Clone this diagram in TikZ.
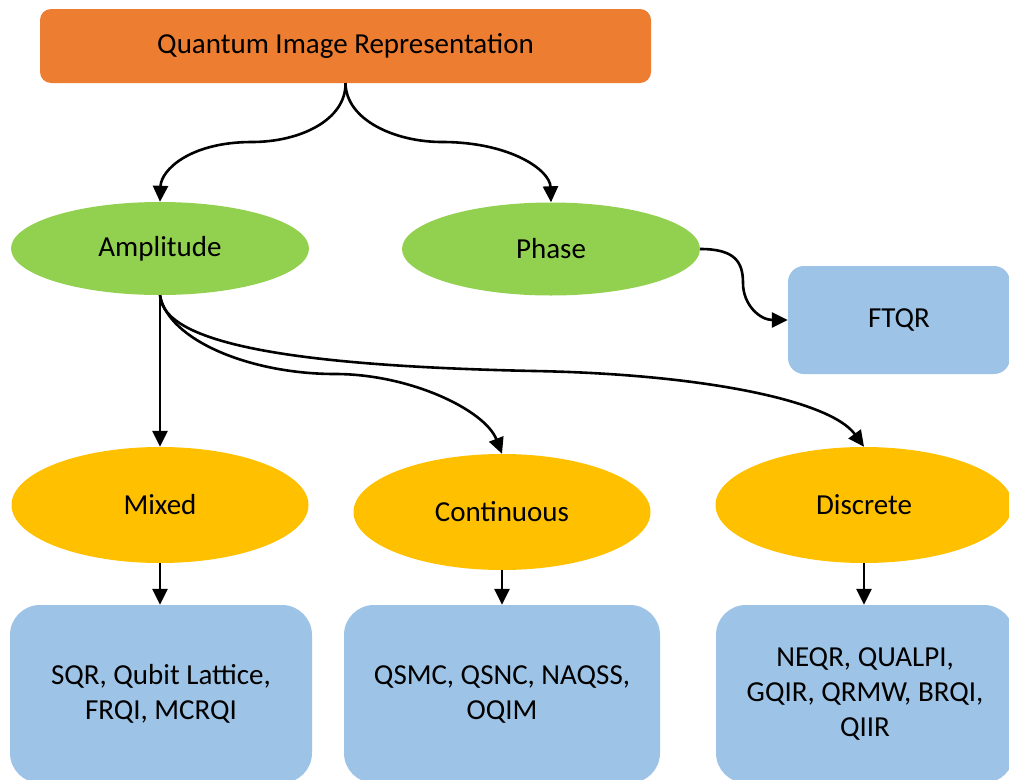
\documentclass[tikz,border=0pt]{standalone}
\usepackage{fontspec}
\setmainfont{Carlito}
\usetikzlibrary{shapes.geometric,arrows.meta}

\definecolor{qorange}{HTML}{ED7D31}
\definecolor{qgreen}{HTML}{92D050}
\definecolor{qyellow}{HTML}{FFC000}
\definecolor{qblue}{HTML}{9DC3E6}

\tikzset{
  lbl/.style={font=\fontsize{29}{35}\selectfont, text=black, inner sep=0pt, align=center},
  rootbox/.style={lbl, rectangle, rounded corners=11pt, fill=qorange,
                  minimum width=611pt, minimum height=74pt},
  greenell/.style={lbl, ellipse, fill=qgreen, minimum width=298pt, minimum height=93pt},
  yellowell/.style={lbl, ellipse, fill=qyellow, minimum width=297pt, minimum height=116pt},
  leafbox/.style={lbl, rectangle, rounded corners=30pt, fill=qblue, minimum height=178pt},
  conn/.style={line width=2.6pt, -{Triangle[length=16pt,width=15pt]}}
}

\begin{document}
\begin{tikzpicture}[x=1pt,y=-1pt]
  \useasboundingbox (0,0) rectangle (1009,779);
  \clip (0,0) rectangle (1009,779);

  % root
  \node[rootbox] (root) at (345.5,46) {Quantum Image Representation};

  % encoding families
  \node[greenell] (amp) at (160,248.5) {Amplitude};
  \node[greenell] (pha) at (551,249) {Phase};
  \node[leafbox, minimum width=222pt, minimum height=108pt, rounded corners=16pt]
       (ftqr) at (899,320) {FTQR};

  % amplitude sub-classes
  \node[yellowell] (mix)  at (160,505) {Mixed};
  \node[yellowell] (cont) at (502,512) {Continuous};
  \node[yellowell] (disc) at (864,505) {Discrete};

  % representation models
  \node[leafbox, minimum width=302pt] (b1) at (161,694)
       {SQR, Qubit Lattice,\\FRQI, MCRQI};
  \node[leafbox, minimum width=316pt] (b2) at (502,694)
       {QSMC, QSNC, NAQSS,\\OQIM};
  \node[leafbox, minimum width=298pt] (b3) at (865,694)
       {NEQR, QUALPI,\\GQIR, QRMW, BRQI,\\QIIR};

  % connectors
  \draw[conn] (root.south) .. controls (346,120) and (300,142) .. (252,142)
              .. controls (190,142) and (161,170) .. (amp.north);
  \draw[conn] (root.south) .. controls (346,120) and (395,142) .. (442,142)
              .. controls (510,142) and (550,170) .. (pha.north);
  \draw[conn] (pha.east) .. controls (735,249) and (743,262) .. (743,283)
              .. controls (743,305) and (760,320) .. (ftqr.west);

  \draw[conn] (amp.south) -- (mix.north);
  \draw[conn] (amp.south) .. controls (168,340) and (250,374) .. (335,374)
              .. controls (410,374) and (485,410) .. (cont.north);
  \draw[conn] (amp.south) .. controls (163,345) and (300,366) .. (534,371)
              .. controls (700,374) and (830,400) .. (disc.north);

  \draw[conn] (mix.south) -- (mix.south |- b1.north);
  \draw[conn] (cont.south) -- (cont.south |- b2.north);
  \draw[conn] (disc.south) -- (disc.south |- b3.north);
\end{tikzpicture}
\end{document}
